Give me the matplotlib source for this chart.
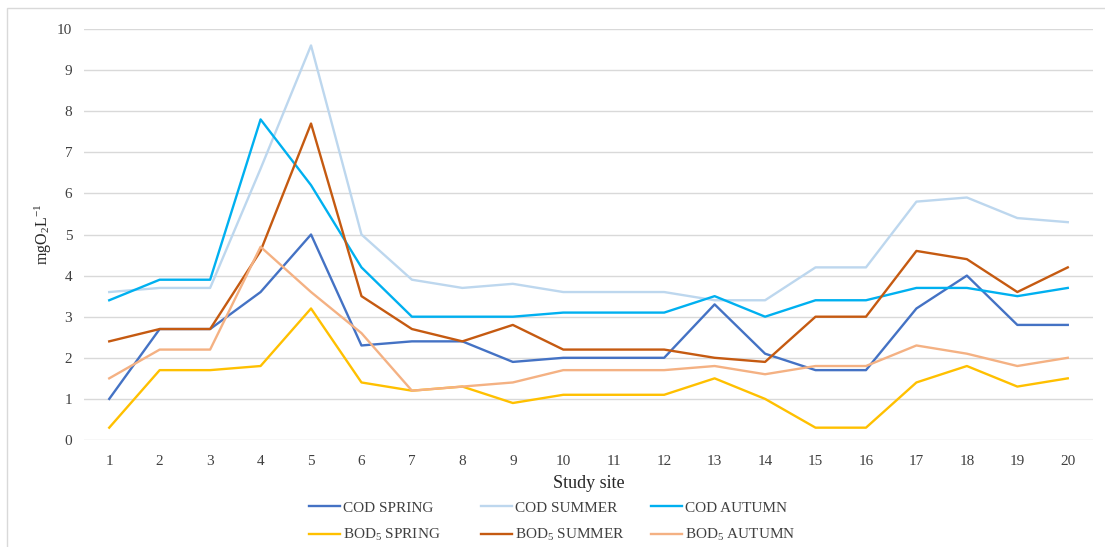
import numpy as np
import matplotlib
matplotlib.use('Agg')
import matplotlib.pyplot as plt
from matplotlib.patches import Rectangle

plt.rcParams['font.family'] = ['Liberation Serif', 'DejaVu Serif']
plt.rcParams['mathtext.fontset'] = 'custom'
plt.rcParams['mathtext.rm'] = 'Liberation Serif'
plt.rcParams['mathtext.it'] = 'Liberation Serif:italic'

# study sites
sites = list(range(1, 21))

cod_spring = [1.0, 2.7, 2.7, 3.6, 5.0, 2.3, 2.4, 2.4, 1.9, 2.0, 2.0, 2.0, 3.3, 2.1, 1.7, 1.7, 3.2, 4.0, 2.8, 2.8]
cod_summer = [3.6, 3.7, 3.7, 6.6, 9.6, 5.0, 3.9, 3.7, 3.8, 3.6, 3.6, 3.6, 3.4, 3.4, 4.2, 4.2, 5.8, 5.9, 5.4, 5.3]
cod_autumn = [3.4, 3.9, 3.9, 7.8, 6.2, 4.2, 3.0, 3.0, 3.0, 3.1, 3.1, 3.1, 3.5, 3.0, 3.4, 3.4, 3.7, 3.7, 3.5, 3.7]
bod_spring = [0.3, 1.7, 1.7, 1.8, 3.2, 1.4, 1.2, 1.3, 0.9, 1.1, 1.1, 1.1, 1.5, 1.0, 0.3, 0.3, 1.4, 1.8, 1.3, 1.5]
bod_summer = [2.4, 2.7, 2.7, 4.6, 7.7, 3.5, 2.7, 2.4, 2.8, 2.2, 2.2, 2.2, 2.0, 1.9, 3.0, 3.0, 4.6, 4.4, 3.6, 4.2]
bod_autumn = [1.5, 2.2, 2.2, 4.7, 3.6, 2.6, 1.2, 1.3, 1.4, 1.7, 1.7, 1.7, 1.8, 1.6, 1.8, 1.8, 2.3, 2.1, 1.8, 2.0]

series = [
    (cod_spring, 'COD SPRING', '#4472C4'),
    (cod_summer, 'COD SUMMER', '#BDD7EE'),
    (cod_autumn, 'COD AUTUMN', '#00B0F0'),
    (bod_spring, 'BOD$_5$ SPRING', '#FFC000'),
    (bod_summer, 'BOD$_5$ SUMMER', '#C55A11'),
    (bod_autumn, 'BOD$_5$ AUTUMN', '#F4B183'),
]

W, H = 1105, 547
fig = plt.figure(figsize=(W / 100, H / 100), dpi=100)
ax = fig.add_axes([84 / W, 1 - 440 / H, 1009 / W, 411 / H])

# outer chart border
fig.patches.append(Rectangle((7 / W, -0.01), 1.1, 1 - 8 / H + 0.01, transform=fig.transFigure,
                             fill=False, edgecolor='#D9D9D9', linewidth=1))

lines = []
for vals, name, col in series:
    ln, = ax.plot(sites, vals, color=col, linewidth=1.7, label=name)
    lines.append(ln)

ax.set_xlim(0.5, 20.5)
ax.set_ylim(0, 10)
ax.set_xticks(sites)
ax.set_yticks(np.arange(0, 11, 1))
ax.grid(axis='y', color='#D9D9D9', linewidth=1)
ax.set_axisbelow(True)
for s in ax.spines.values():
    s.set_visible(False)
ax.tick_params(length=0, labelsize=11, colors='#404040')
ax.tick_params(axis='y', pad=8.5)
ax.tick_params(axis='x', pad=11)
ax.set_xlabel('Study site', fontsize=13, labelpad=5, color='#262626')
ax.set_ylabel('mgO$_2$L$^{-1}$', fontsize=11.5, labelpad=2, color='#262626')

# legend: three columns, each placed where the reference has it
col_x = [309, 481, 651]
for j, x0 in enumerate(col_x):
    idx = [j, j + 3]
    leg = fig.legend([lines[i] for i in idx], [series[i][1] for i in idx],
                     loc='upper left', bbox_to_anchor=(x0 / W, 1 - 501 / H), frameon=False,
                     fontsize=11, handlelength=2.0, handletextpad=0.2, borderpad=0,
                     borderaxespad=0, labelspacing=0.8)
    for t in leg.get_texts():
        t.set_color('#404040')

fig.savefig('out.png', dpi=100)
